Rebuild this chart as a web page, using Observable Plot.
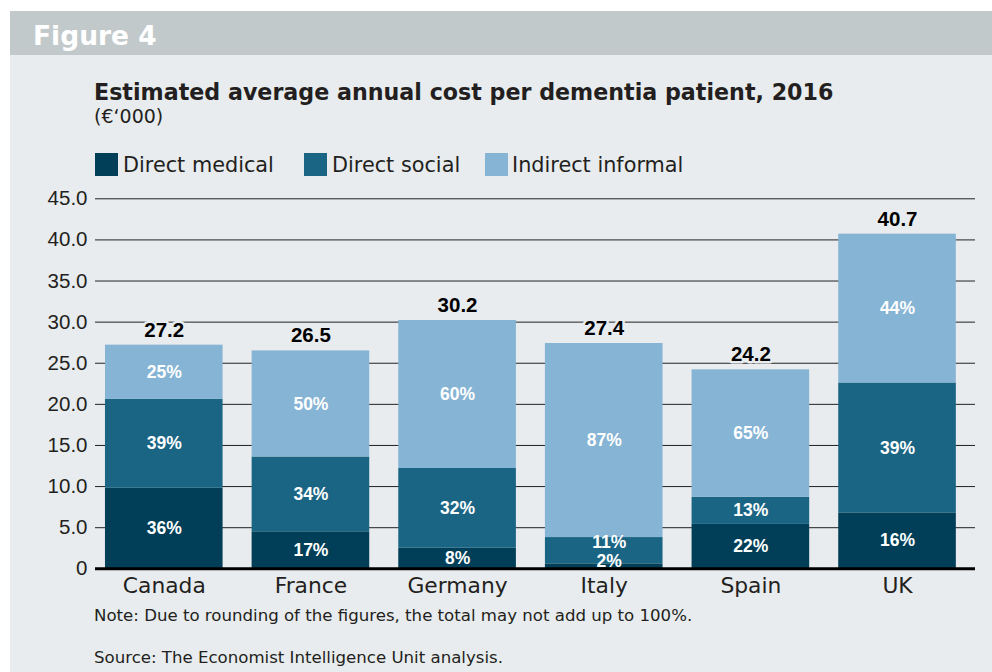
<!DOCTYPE html>
<html>
<head>
<meta charset="utf-8">
<script src="https://cdn.jsdelivr.net/npm/d3@7"></script>
<script src="https://cdn.jsdelivr.net/npm/@observablehq/plot@0.6"></script>
<style>
  html, body { margin: 0; padding: 0; background: #ffffff; width: 992px; height: 672px; overflow: hidden; }
  #panel { position: absolute; left: 10px; top: 11px; width: 982px; height: 661px; background: #e8ecee; }
  #band { position: absolute; left: 10px; top: 11px; width: 982px; height: 44px; background: #c2c9cb; }
  .t { position: absolute; white-space: nowrap; font-family: "DejaVu Sans", sans-serif; color: #231f20; line-height: 1; }
  .sw { position: absolute; width: 23px; height: 23px; }
  #chart { position: absolute; left: 0; top: 180px; }
</style>
</head>
<body>
<div id="panel"></div>
<div id="band"></div>
<div class="t" id="fig" style="left:33px; top:22.6px; font-size:26.5px; font-weight:bold; color:#ffffff;">Figure 4</div>
<div class="t" id="title" style="left:94px; top:81.2px; font-size:22.2px; font-weight:bold;">Estimated average annual cost per dementia patient, 2016</div>
<div class="t" id="sub" style="left:94px; top:106.9px; font-size:19px;">(€‘000)</div>
<div id="legend"></div>
<div id="chart"></div>
<div class="t" id="note" style="left:94px; top:608px; font-size:16.6px;">Note: Due to rounding of the figures, the total may not add up to 100%.</div>
<div class="t" id="source" style="left:94px; top:650px; font-size:16.6px;">Source: The Economist Intelligence Unit analysis.</div>
<script>
// ---- Data ----
const countries = ["Canada", "France", "Germany", "Italy", "Spain", "UK"];
const totals = [27.2, 26.5, 30.2, 27.4, 24.2, 40.7];
const directMedical = [9.8, 4.5, 2.5, 0.6, 5.4, 6.8];
const directSocial = [10.8, 9.1, 9.7, 3.2, 3.3, 15.8];
const indirectInformal = [6.6, 12.9, 18.0, 23.6, 15.5, 18.1];
const pctMedical = ["36%", "17%", "8%", "2%", "22%", "16%"];
const pctSocial = ["39%", "34%", "32%", "11%", "13%", "39%"];
const pctInformal = ["25%", "50%", "60%", "87%", "65%", "44%"];
const seriesNames = ["Direct medical", "Direct social", "Indirect informal"];
const seriesColors = ["#003f57", "#1b6584", "#86b4d4"];
const yTicks = [0, 5, 10, 15, 20, 25, 30, 35, 40, 45];
const yTickLabels = ["0", "5.0", "10.0", "15.0", "20.0", "25.0", "30.0", "35.0", "40.0", "45.0"];

// ---- Legend (HTML) ----
const legendX = [95, 304, 485];
const legendTextX = [123, 332, 512];
const legend = document.getElementById("legend");
seriesNames.forEach((name, i) => {
  const sw = document.createElement("div");
  sw.className = "sw";
  sw.style.left = legendX[i] + "px";
  sw.style.top = "153px";
  sw.style.background = seriesColors[i];
  legend.appendChild(sw);
  const tx = document.createElement("div");
  tx.className = "t";
  tx.style.left = legendTextX[i] + "px";
  tx.style.top = "154.5px";
  tx.style.fontSize = "20.8px";
  tx.textContent = name;
  legend.appendChild(tx);
});

// ---- Table built from arrays ----
const seriesValues = [directMedical, directSocial, indirectInformal];
const seriesPct = [pctMedical, pctSocial, pctInformal];
const rows = [];
countries.forEach((c, ci) => {
  let acc = 0;
  seriesNames.forEach((s, si) => {
    const v = seriesValues[si][ci];
    rows.push({country: c, series: s, y1: acc, y2: acc + v, mid: acc + v / 2, pct: seriesPct[si][ci]});
    acc += v;
  });
});
const totalRows = countries.map((c, i) => ({country: c, total: totals[i]}));

const isItalySmall = d => d.country === "Italy" && d.series !== "Indirect informal";
const bg = "#e8ecee";
const numFont = "Liberation Sans, Arial, sans-serif";

const chart = Plot.plot({
  width: 992,
  height: 421,
  marginTop: 18.3,
  marginBottom: 32.7,
  marginLeft: 95,
  marginRight: 17,
  style: {background: "transparent", overflow: "visible", fontFamily: "DejaVu Sans, sans-serif"},
  x: {domain: countries, range: [90.3, 970.5], paddingInner: 0.198, paddingOuter: 0.1, round: false, label: null},
  y: {domain: [0, 45], label: null},
  color: {domain: seriesNames, range: seriesColors},
  marks: [
    Plot.ruleY(yTicks.filter(t => t !== 0), {stroke: "#222222", strokeWidth: 1}),
    Plot.barY(rows, {x: "country", y1: "y1", y2: "y2", fill: "series"}),
    Plot.ruleY([0], {stroke: "#000000", strokeWidth: 3}),
    Plot.axisY({ticks: yTicks, tickFormat: d => yTickLabels[yTicks.indexOf(d)], tickSize: 0, tickPadding: 8,
      fontSize: 20.5, fontFamily: numFont, fill: "#231f20", label: null}),
    Plot.axisX({tickSize: 0, tickPadding: 9, fontSize: 21.8, fontFamily: "DejaVu Sans, sans-serif", fill: "#231f20", label: null}),
    Plot.text(rows.filter(d => !isItalySmall(d)), {x: "country", y: "mid", text: "pct", fill: "#ffffff",
      fontSize: 17.5, fontWeight: "bold", fontFamily: numFont, lineAnchor: "middle"}),
    Plot.text(rows.filter(d => isItalySmall(d) && d.series === "Direct medical"), {x: "country", y: "mid", text: "pct", fill: "#ffffff",
      fontSize: 17.5, fontWeight: "bold", fontFamily: numFont, lineAnchor: "middle", dy: -5, dx: 5}),
    Plot.text(rows.filter(d => isItalySmall(d) && d.series === "Direct social"), {x: "country", y: "mid", text: "pct", fill: "#ffffff",
      fontSize: 17.5, fontWeight: "bold", fontFamily: numFont, lineAnchor: "middle", dy: -8.5, dx: 5}),
    Plot.text(totalRows, {x: "country", y: "total", text: d => d.total.toFixed(1), fill: "#000000",
      stroke: bg, strokeWidth: 5, fontSize: 20.5, fontWeight: "bold", fontFamily: numFont,
      lineAnchor: "bottom", dy: -8.5})
  ]
});
document.getElementById("chart").appendChild(chart);
</script>
</body>
</html>
